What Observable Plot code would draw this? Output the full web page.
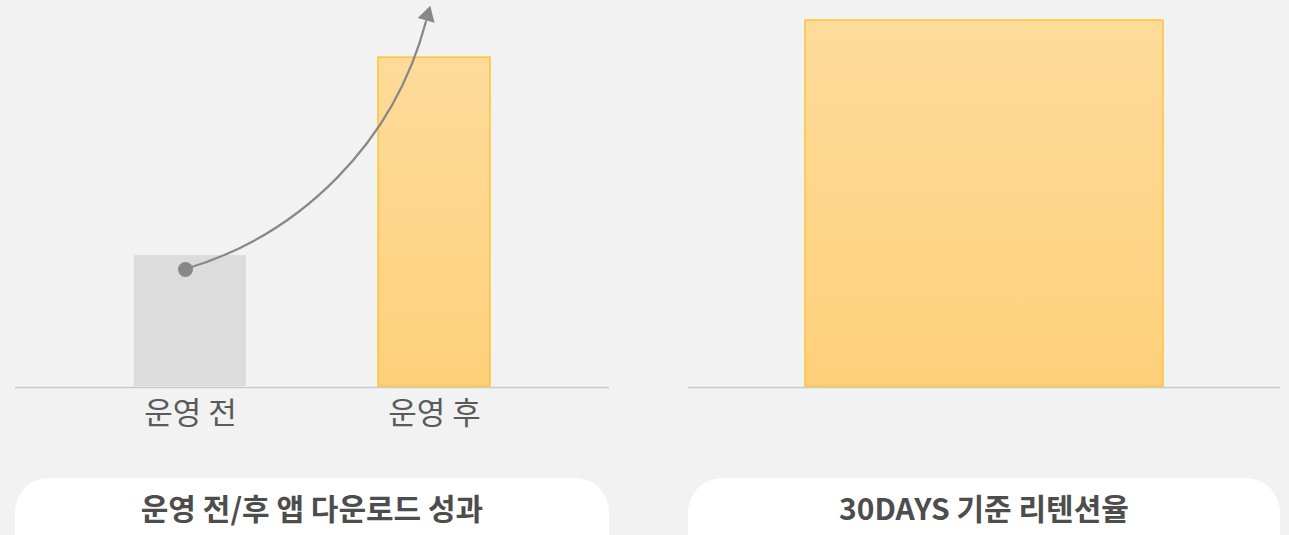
<!DOCTYPE html>
<html><head><meta charset="utf-8">
<script src="https://cdn.jsdelivr.net/npm/d3@7"></script>
<script src="https://cdn.jsdelivr.net/npm/@observablehq/plot@0.6"></script>
<style>
html,body{margin:0;padding:0;background:#f2f2f2;}
#wrap{position:relative;width:1289px;height:535px;overflow:hidden;font-family:"Noto Sans CJK KR",sans-serif;}
#left{position:absolute;left:0;top:0;}
#right{position:absolute;left:640px;top:0;}
.pill{position:absolute;top:478px;height:90px;background:#fff;border-radius:34px;text-align:center;}
.pill span{display:inline-block;font-weight:700;font-size:30px;color:#4d4d4d;line-height:58px;}
</style></head><body>
<div id="wrap"><div id="left"></div><div id="right"></div>
<div class="pill" style="left:15px;width:594px"><span id="cap1"></span></div>
<div class="pill" style="left:688px;width:592px"><span id="cap2"></span></div>
</div>
<script>
// ---- data ----
const downloadCategories = ["운영 전", "운영 후"];
const downloadValues = [33.9, 85.2];
const retentionCategories = ["30DAYS 리텐션율"];
const retentionValues = [94.8];
const arrowFrom = {category: "운영 전", value: 30.3};
const arrowTo = {category: "운영 후", value: 96.1};
const captions = ["운영 전/후 앱 다운로드 성과", "30DAYS 기준 리텐션율"];

const downloads = downloadCategories.map((c, i) => ({category: c, value: downloadValues[i]}));
const retention = retentionCategories.map((c, i) => ({category: c, value: retentionValues[i]}));
const arrowData = [{c1: arrowFrom.category, v1: arrowFrom.value, c2: arrowTo.category, v2: arrowTo.value}];

const FONT = '"Noto Sans CJK KR", sans-serif';
const gradientDefs = () => {
  const defs = d3.create("svg:defs");
  const g = defs.append("linearGradient").attr("id", "gold").attr("x1", 0).attr("y1", 0).attr("x2", 0).attr("y2", 1);
  g.append("stop").attr("offset", "0%").attr("stop-color", "#fedb9a");
  g.append("stop").attr("offset", "100%").attr("stop-color", "#ffd07b");
  return defs.node();
};

const left = Plot.plot({
  width: 640, height: 440,
  marginLeft: 15, marginRight: 31, marginTop: 0, marginBottom: 54,
  style: {fontFamily: FONT, background: "transparent", overflow: "visible"},
  x: {domain: downloadCategories, paddingInner: 0.539, paddingOuter: 0.482},
  y: {domain: [0, 100], axis: null},
  marks: [
    gradientDefs,
    Plot.ruleY([0], {stroke: "#c9c9c9", strokeWidth: 1.5, dy: 1}),
    Plot.barY(downloads.filter(d => d.category === downloadCategories[0]), {x: "category", y: "value", fill: "#dcdcdc"}),
    Plot.barY(downloads.filter(d => d.category === downloadCategories[1]), {x: "category", y: "value", fill: "url(#gold)", stroke: "#fbc532", strokeWidth: 1.5}),
    Plot.arrow(arrowData, {x1: "c1", y1: "v1", x2: "c2", y2: "v2", bend: -30, stroke: "#888888", strokeWidth: 2.2, headLength: 0, insetEnd: 6, dx: -7}),
    Plot.dot([arrowFrom], {x: "category", y: "value", r: 7.5, fill: "#888888", dx: -5}),
    Plot.dot([arrowTo], {x: "category", y: "value", symbol: "triangle", r: 6.5, fill: "#888888", rotate: 16, dx: -7}),
    Plot.axisX({tickSize: 0, tickPadding: 15, fontSize: 31, color: "#5a5a5a", label: null})
  ]
});
document.getElementById("left").appendChild(left);

const right = Plot.plot({
  width: 649, height: 440,
  marginLeft: 48, marginRight: 9, marginTop: 0, marginBottom: 54,
  style: {fontFamily: FONT, background: "transparent"},
  x: {domain: retentionCategories, padding: 0.2463, axis: null},
  y: {domain: [0, 100], axis: null},
  marks: [
    gradientDefs,
    Plot.ruleY([0], {stroke: "#c9c9c9", strokeWidth: 1.5, dy: 1}),
    Plot.barY(retention, {x: "category", y: "value", fill: "url(#gold)", stroke: "#fbc532", strokeWidth: 1.5})
  ]
});
document.getElementById("right").appendChild(right);

document.getElementById("cap1").textContent = captions[0];
document.getElementById("cap2").textContent = captions[1];
</script>
</body></html>
